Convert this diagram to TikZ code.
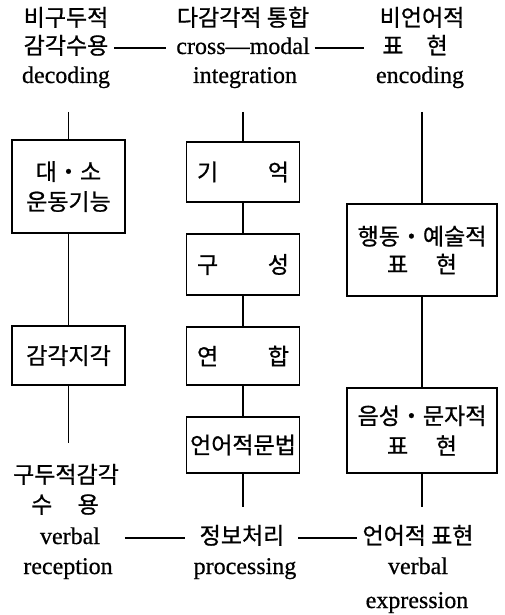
\documentclass[tikz,border=0pt]{standalone}
\usepackage{fontspec}
\setmainfont[FakeBold=0.6]{Liberation Serif}
\newfontfamily\kr[FakeBold=0.8]{Noto Sans CJK KR}
\begin{document}
\begin{tikzpicture}[x=1pt,y=-1pt,
  every node/.style={inner sep=0pt, outer sep=0pt},
  ko/.style={font=\kr\fontsize{23}{30}\selectfont, text height=17pt, text depth=5pt},
  en/.style={font=\fontsize{24}{30}\selectfont, text height=17pt, text depth=5pt},
  box/.style={draw, line width=1.3pt, font=\kr\fontsize{23}{30}\selectfont, align=center},
  conn/.style={line width=1.1pt}]
\useasboundingbox (0,0) rectangle (504,615);

% top labels
\node[ko] (t1a) at (66,20) {비구두적};
\node[ko] (t1b) at (66,48) {감각수용};
\node[en] (t1c) at (66,77) {decoding};
\node[ko] (t2a) at (243,20) {다감각적 통합};
\node[en] (t2b) at (243,48) {cross---modal};
\node[en] (t2c) at (245,77) {integration};
\node[ko] (t3a) at (422,20) {비언어적};
\node[ko] (t3b) at (415,48) {표\quad 현};
\node[en] (t3c) at (420,77) {encoding};

% bottom labels
\node[ko] (b1a) at (66,477) {구두적감각};
\node[ko] (b1b) at (65,507) {수\hspace{1.1em}용};
\node[en] (b1c) at (70,538) {verbal};
\node[en] (b1d) at (68,568) {reception};
\node[ko] (b2a) at (242,538) {정보처리};
\node[en] (b2b) at (245,568) {processing};
\node[ko] (b3a) at (418,538) {언어적 표현};
\node[en] (b3b) at (418,568) {verbal};
\node[en] (b3c) at (417,602) {expression};

% boxes column 1
\node[box, minimum width=113pt, minimum height=93pt] (A1) at (68.5,186.5) {대・소\\운동기능};
\node[box, minimum width=113pt, minimum height=59pt] (A2) at (68.5,355.5) {감각지각};
% boxes column 2
\node[box, minimum width=113pt, minimum height=60pt] (C1) at (243,172) {\makebox[92pt]{기\hfill 억}};
\node[box, minimum width=113pt, minimum height=61pt] (C2) at (243,264.5) {\makebox[92pt]{구\hfill 성}};
\node[box, minimum width=113pt, minimum height=58pt] (C3) at (243,356) {\makebox[92pt]{연\hfill 합}};
\node[box, minimum width=113pt, minimum height=56pt] (C4) at (243,445) {언어적문법};
% boxes column 3
\node[box, minimum width=150pt, minimum height=92pt] (D1) at (422,250) {행동・예술적\\[-2pt]표\hspace{1.2em}현};
\node[box, minimum width=150pt, minimum height=85pt] (D2) at (422,430.5) {음성・문자적\\표\hspace{1.2em}현};

% free ends
\coordinate (c1top) at (68.5,112);
\coordinate (c2top) at (243,112);
\coordinate (c3top) at (422,112);
\coordinate (c1bot) at (68.5,443);
\coordinate (c2bot) at (243,507);
\coordinate (c3bot) at (422,507);

% vertical connectors
\draw[conn] (c1top) -- (A1.north);
\draw[conn] (A1.south) -- (A2.north);
\draw[conn] (A2.south) -- (c1bot);
\draw[conn] (c2top) -- (C1.north);
\draw[conn] (C1.south) -- (C2.north);
\draw[conn] (C2.south) -- (C3.north);
\draw[conn] (C3.south) -- (C4.north);
\draw[conn] (C4.south) -- (c2bot);
\draw[conn] (c3top) -- (D1.north);
\draw[conn] (D1.south) -- (D2.north);
\draw[conn] (D2.south) -- (c3bot);

% horizontal connectors
\draw[conn] ([xshift=6pt]t1b.east) -- ([xshift=-10pt]t2b.west);
\draw[conn] ([xshift=5pt]t2b.east) -- ([xshift=-18pt]t3b.west);
\draw[conn] ([xshift=25pt]b1c.east) -- ([xshift=-15pt]b2a.west);
\draw[conn] ([xshift=14pt]b2a.east) -- ([xshift=-6pt]b3a.west);
\end{tikzpicture}
\end{document}
